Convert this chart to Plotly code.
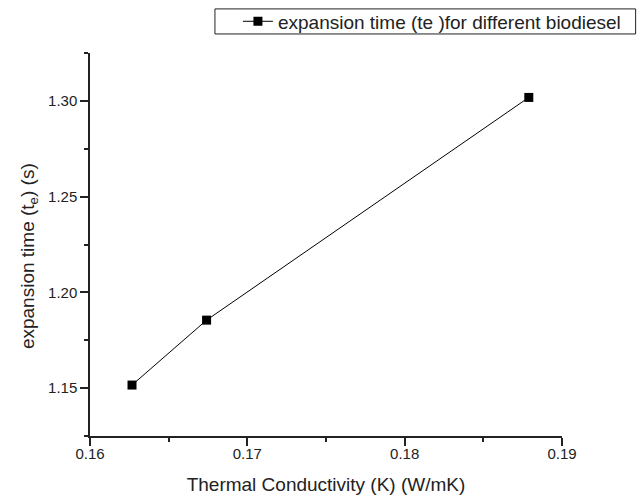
import plotly.graph_objects as go

# Data
conductivity = [0.16267, 0.16741, 0.18789]
expansion_time = [1.1516, 1.1855, 1.3018]
series_name = "expansion time (te )for different biodiesel"
x_ticks = [0.16, 0.17, 0.18, 0.19]
y_ticks = [1.15, 1.20, 1.25, 1.30]

FONT = "Arial, Liberation Sans, sans-serif"
INK = "#222"

fig = go.Figure()
fig.add_trace(go.Scatter(
    x=conductivity, y=expansion_time,
    mode="lines+markers",
    name=series_name,
    showlegend=True,
    line=dict(color="black", width=1),
    marker=dict(symbol="square", size=9, color="black"),
))

axis_common = dict(
    showgrid=False, zeroline=False, automargin=False,
    showline=True, linecolor=INK, linewidth=1.5,
    ticks="outside", ticklen=8, tickwidth=1.5, tickcolor=INK,
    tickfont=dict(family=FONT, size=15, color=INK),
    mirror=False,
)

# Legend frame (decoration) in paper coordinates
fig.add_shape(type="rect", xref="paper", yref="paper",
              x0=0.2647, x1=1.156, y0=1.0497, y1=1.1151,
              line=dict(color=INK, width=1), fillcolor="rgba(0,0,0,0)", layer="above")

# Y axis title as a rotated annotation (positioned like the reference)
fig.add_annotation(
    text="expansion time (t<sub>e</sub>) (s)", xref="paper", yref="paper",
    x=-0.129, y=0.47, xanchor="center", yanchor="middle", textangle=-90,
    showarrow=False, font=dict(family=FONT, size=19, color=INK),
)

fig.update_layout(
    width=638, height=495,
    margin=dict(l=90, r=76, t=53, b=59, autoexpand=False),
    paper_bgcolor="white", plot_bgcolor="white",
    font=dict(family=FONT, color=INK),
    xaxis=dict(
        range=[0.16, 0.19], tickvals=x_ticks,
        ticktext=[f"{v:.2f}" for v in x_ticks],
        ticklabelstandoff=-5,
        minor=dict(ticks="outside", ticklen=4, tickwidth=1.5, tickcolor=INK, dtick=0.005, tick0=0.16),
        title=dict(text="Thermal Conductivity (K) (W/mK)", font=dict(family=FONT, size=19, color=INK), standoff=17),
        **axis_common,
    ),
    yaxis=dict(
        range=[1.125, 1.325], tickvals=y_ticks,
        ticktext=[f"{v:.2f}" for v in y_ticks],
        minor=dict(ticks="outside", ticklen=4, tickwidth=1.5, tickcolor=INK, dtick=0.025, tick0=1.125),
        **axis_common,
    ),
    legend=dict(
        x=0.3134, y=1.0824, xanchor="left", yanchor="middle",
        borderwidth=0, bgcolor="rgba(0,0,0,0)",
        font=dict(family=FONT, size=19, color=INK),
        itemwidth=30,
    ),
)

fig.write_html("out.html", config={"displayModeBar": False},
               post_script="document.body.style.margin='0';")
